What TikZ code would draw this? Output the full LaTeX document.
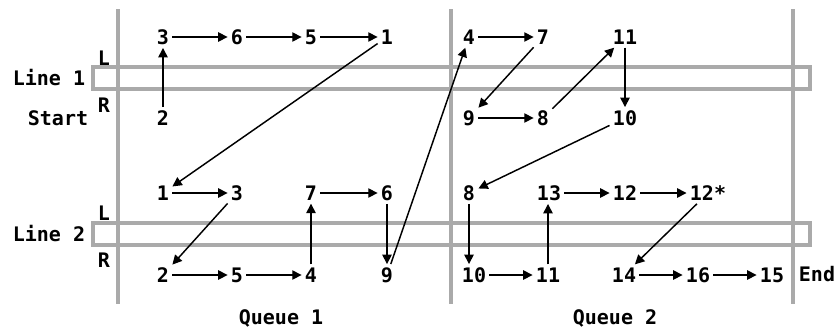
\documentclass[tikz,border=0pt]{standalone}
\usepackage{fontspec}
\newfontfamily\monofam{DejaVu Sans Mono}
\usetikzlibrary{arrows.meta}
\definecolor{railgray}{RGB}{170,170,170}

\begin{document}
\begin{tikzpicture}[x=0.75pt, y=-0.75pt, >={Triangle[length=7pt, width=7pt]}, line width=1.1pt,
    every node/.style={font=\fontsize{15}{17}\monofam\bfseries, inner sep=2pt},
    rail/.style={draw=railgray, line width=2.3pt},
    queueline/.style={draw=railgray, line width=3pt}]
    \useasboundingbox (0,0) rectangle (838,333);

    % lines and queue borders
    \draw[rail] (93,67) rectangle (810,89);
    \draw[rail] (93,223) rectangle (810,245);
    \draw[queueline] (118,9) -- (118,304);
    \draw[queueline] (451,9) -- (451,304);
    \draw[queueline] (793,9) -- (793,304);

    \node (line1) at (49,78) {Line 1};
    \node (start) at (58,118) {Start};
    \node (L1) at (104,58) {L};
    \node (R1) at (104,105) {R};
    \node (line2) at (49,234) {Line 2};
    \node (L2) at (104,213) {L};
    \node (R2) at (104,260) {R};
    \node (end) at (817,274) {End};
    \node (q1) at (281,318) {Queue 1};
    \node (q2) at (615,318) {Queue 2};

    % line 1, left side
    \node (a3) at (163,37) {3};
    \node (a6) at (237,37) {6};
    \node (a5) at (311,37) {5};
    \node (a1) at (387,37) {1};
    \node (b2) at (163,118) {2};
    % line 1, right side
    \node (a4) at (469,37) {4};
    \node (a7) at (543,37) {7};
    \node (a11) at (625,37) {11};
    \node (b9) at (469,118) {9};
    \node (b8) at (543,118) {8};
    \node (b10) at (625,118) {10};

    % line 2, left side
    \node (c1) at (163,193) {1};
    \node (c3) at (237,193) {3};
    \node (c7) at (311,193) {7};
    \node (c6) at (387,193) {6};
    \node (d2) at (163,275) {2};
    \node (d5) at (237,275) {5};
    \node (d4) at (311,275) {4};
    \node (d9) at (387,275) {9};
    % line 2, right side
    \node (c8) at (469,193) {8};
    \node (c13) at (549,193) {13};
    \node (c12) at (625,193) {12};
    \node (c12s) at (708,193) {12*};
    \node (d10) at (474,275) {10};
    \node (d11) at (548,275) {11};
    \node (d14) at (624,275) {14};
    \node (d16) at (698,275) {16};
    \node (d15) at (772,275) {15};

    \draw[->] (b2) -- (a3);
    \draw[->] (a3) -- (a6);
    \draw[->] (a6) -- (a5);
    \draw[->] (a5) -- (a1);
    \draw[->] (a1) -- (c1);
    \draw[->] (c1) -- (c3);
    \draw[->] (c3) -- (d2);
    \draw[->] (d2) -- (d5);
    \draw[->] (d5) -- (d4);
    \draw[->] (d4) -- (c7);
    \draw[->] (c7) -- (c6);
    \draw[->] (c6) -- (d9);
    \draw[->] (d9) -- (a4);
    \draw[->] (a4) -- (a7);
    \draw[->] (a7) -- (b9);
    \draw[->] (b9) -- (b8);
    \draw[->] (b8) -- (a11);
    \draw[->] (a11) -- (b10);
    \draw[->] (b10) -- (c8);
    \draw[->] (c8) -- (c8 |- d10.north);
    \draw[->] (d10) -- (d11);
    \draw[->] (d11) -- (d11 |- c13.south);
    \draw[->] (c13) -- (c12);
    \draw[->] (c12) -- (c12s);
    \draw[->] (c12s) -- (d14);
    \draw[->] (d14) -- (d16);
    \draw[->] (d16) -- (d15);
\end{tikzpicture}
\end{document}
